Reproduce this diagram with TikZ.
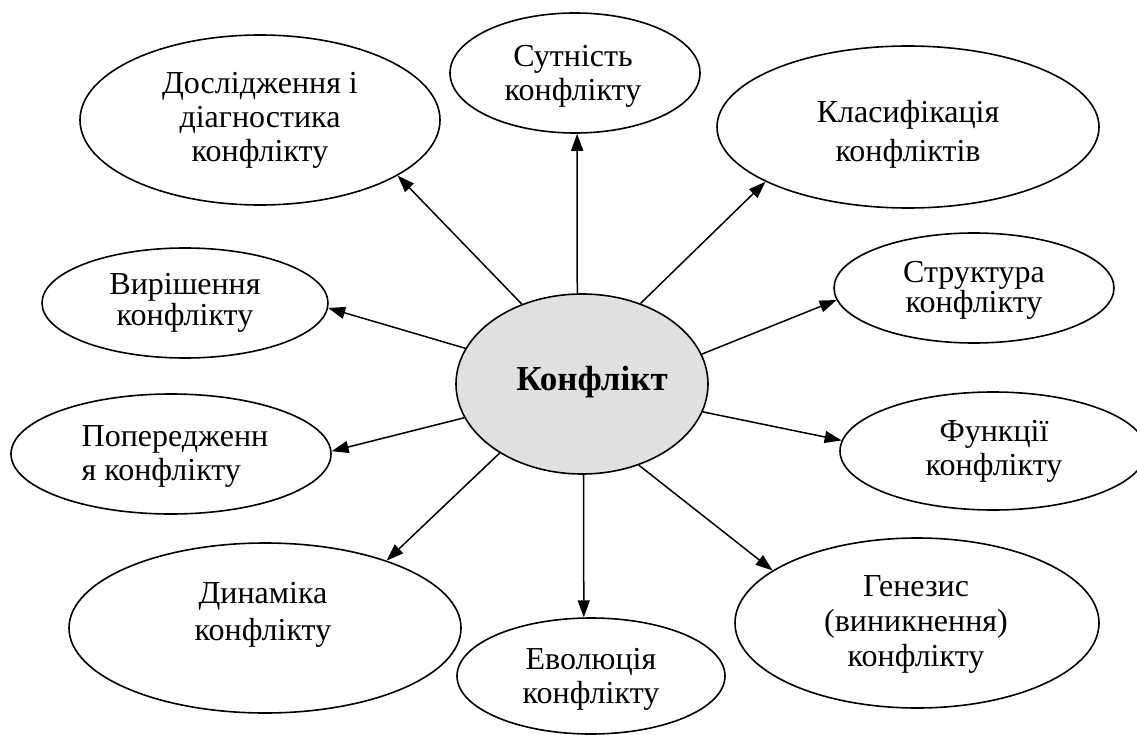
\documentclass[tikz,border=0pt]{standalone}
\usepackage{fontspec}
\setmainfont{Liberation Serif}
\usetikzlibrary{shapes.geometric,arrows.meta}

\begin{document}
\begin{tikzpicture}[x=1pt,y=1pt,yscale=-1,xscale=1,
  oval/.style={draw, ellipse, line width=1.6pt, inner sep=0pt},
  conn/.style={line width=1.5pt, -{Triangle[length=17pt,width=12pt]}},
  txt/.style={align=center, inner sep=0pt, font=\fontsize{32}{34}\selectfont}]
\useasboundingbox (0,0) rectangle (1137,735);

%Shape: Ellipse (centre)
\node[oval, fill={rgb, 255:red, 224; green, 224; blue, 224 }, minimum width=252pt, minimum height=180pt] (konf) at (582,384) {};
%Shape: Ellipse
\node[oval, minimum width=250pt, minimum height=120pt] (sut) at (575,73) {};
%Shape: Ellipse
\node[oval, minimum width=360pt, minimum height=170pt] (dosl) at (260,120) {};
%Shape: Ellipse
\node[oval, minimum width=382pt, minimum height=162pt] (klas) at (908,127) {};
%Shape: Ellipse
\node[oval, minimum width=286pt, minimum height=110pt] (vyr) at (185,303) {};
%Shape: Ellipse
\node[oval, minimum width=280pt, minimum height=110pt] (str) at (974,288) {};
%Shape: Ellipse
\node[oval, minimum width=320pt, minimum height=120pt] (pop) at (171,454) {};
%Shape: Ellipse
\node[oval, minimum width=306pt, minimum height=118pt] (fun) at (993,451) {};
%Shape: Ellipse
\node[oval, minimum width=392pt, minimum height=170pt] (dyn) at (265,628) {};
%Shape: Ellipse
\node[oval, minimum width=364pt, minimum height=170pt] (gen) at (917,623) {};
%Shape: Ellipse
\node[oval, minimum width=268pt, minimum height=116pt] (evo) at (591,676) {};

%Straight Lines
\draw[conn] (konf.93) -- (sut.-88);
\draw[conn] (konf.127) -- (dosl.-22);
\draw[conn] (konf.54) -- (klas.201);
\draw[conn] (konf.14) -- (str.185);
\draw[conn] (konf.-13) -- (fun.176);
\draw[conn] (konf.-55) -- (gen.160);
\draw[conn] (konf.-89) -- (evo.97);
\draw[conn] (konf.220) -- (dyn.29);
\draw[conn] (konf.196) -- (pop.1);
\draw[conn] (konf.163) -- (vyr.-2);

% Text Node
\node[txt, font=\fontsize{35}{36}\bfseries] (t-konf) at (592,382) {Конфлікт};
% Text Node
\node[txt] (t-sut) at (573,76) {Сутність\\конфлікту};
% Text Node
\node[txt] (t-dosl) at (260,120) {Дослідження і\\діагностика\\конфлікту};
% Text Node
\node[txt, font=\fontsize{32}{39}\selectfont] (t-klas) at (908,134) {Класифікація\\конфліктів};
% Text Node
\node[txt, font=\fontsize{32}{31}\selectfont] (t-vyr) at (185,303) {Вирішення\\конфлікту};
% Text Node
\node[txt, font=\fontsize{32}{28}\selectfont] (t-str) at (974,290) {Структура\\конфлікту};
% Text Node
\node[txt, align=left] (t-pop) at (175,456) {Попередженн\\я конфлікту};
% Text Node
\node[txt] (t-fun) at (994,451) {Функції\\конфлікту};
% Text Node
\node[txt, font=\fontsize{32}{37}\selectfont] (t-dyn) at (263,615) {Динаміка\\конфлікту};
% Text Node
\node[txt, font=\fontsize{32}{35}\selectfont] (t-gen) at (916,624) {Генезис\\(виникнення)\\конфлікту};
% Text Node
\node[txt] (t-evo) at (591,679) {Еволюція\\конфлікту};

\end{tikzpicture}
\end{document}
